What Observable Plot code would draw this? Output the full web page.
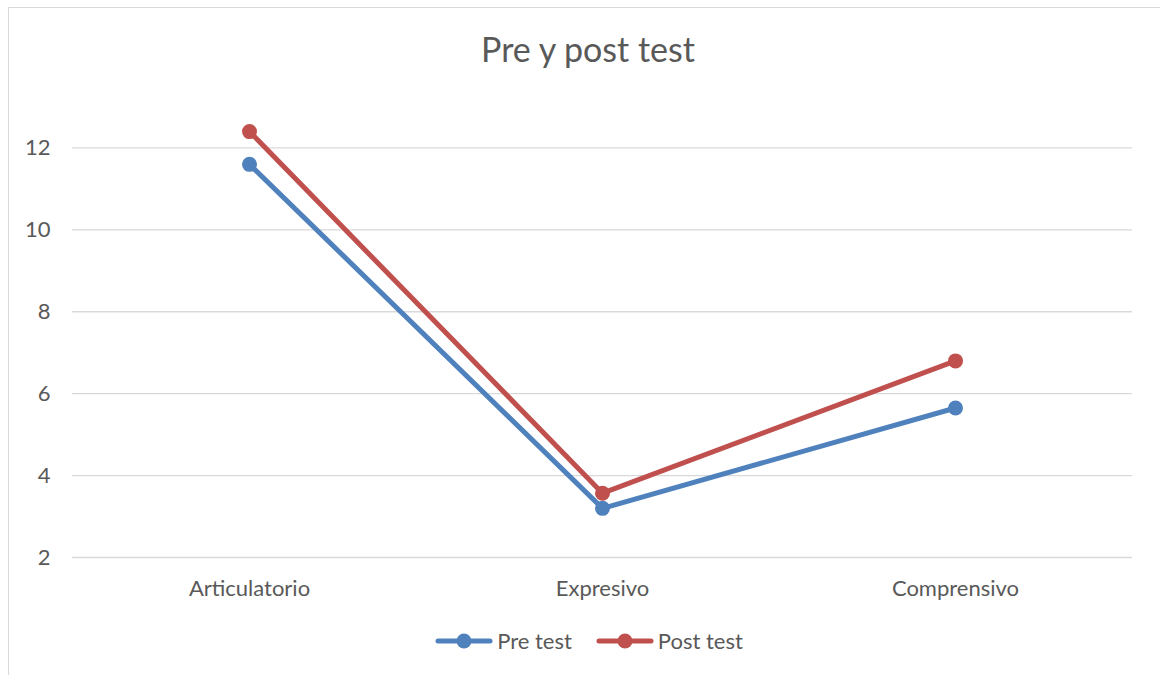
<!DOCTYPE html>
<html>
<head>
<meta charset="utf-8">
<script src="https://cdn.jsdelivr.net/npm/d3@7"></script>
<script src="https://cdn.jsdelivr.net/npm/@observablehq/plot@0.6"></script>
<style>
  html, body { margin: 0; padding: 0; background: #fff; }
  #wrap { position: relative; width: 1160px; height: 675px; overflow: hidden; font-family: Lato, "Open Sans", sans-serif; color: #595959; }
  #border { position: absolute; left: 8px; top: 7px; width: 1200px; height: 720px; border: 1px solid #d9d9d9; box-sizing: border-box; }
  #title { position: absolute; left: 8px; width: 1160px; top: 28px; text-align: center; font-size: 34px; color: #595959; }
  #chart { position: absolute; left: 0; top: 0; }
  #legend { position: absolute; left: 9px; width: 1160px; top: 627px; display: flex; justify-content: center; align-items: center; gap: 24px; font-size: 22px; color: #595959; }
  .item { display: flex; align-items: center; gap: 4px; }
</style>
</head>
<body>
<div id="wrap">
  <div id="border"></div>
  <div id="chart"></div>
  <div id="title">Pre y post test</div>
  <div id="legend"></div>
</div>
<script>
const categories = ["Articulatorio", "Expresivo", "Comprensivo"];
const seriesNames = ["Pre test", "Post test"];
const preTest = [11.6, 3.2, 5.65];
const postTest = [12.4, 3.57, 6.8];
const yTicks = [2, 4, 6, 8, 10, 12];
const colors = ["#4f81bd", "#c0504d"];

const data = [];
categories.forEach((c, i) => {
  data.push({category: c, series: seriesNames[0], value: preTest[i]});
  data.push({category: c, series: seriesNames[1], value: postTest[i]});
});

const chart = Plot.plot({
  width: 1160,
  height: 675,
  marginLeft: 72,
  marginRight: 28,
  marginTop: 106.5,
  marginBottom: 118,
  style: {fontFamily: "Lato, 'Open Sans', sans-serif", fontSize: "22px", color: "#595959", background: "transparent"},
  x: {type: "point", domain: categories, padding: 0.5, label: null},
  y: {domain: [2, 13], label: null},
  color: {domain: seriesNames, range: colors},
  marks: [
    Plot.gridY(yTicks, {stroke: "#d9d9d9", strokeOpacity: 1, strokeWidth: 1.3}),
    Plot.axisY(yTicks, {tickSize: 0, tickPadding: 22, fill: "#595959", fontSize: 22, label: null}),
    Plot.axisX({tickSize: 0, tickPadding: 23, fill: "#595959", fontSize: 22, label: null}),
    Plot.line(data, {x: "category", y: "value", z: "series", stroke: "series", strokeWidth: 5, strokeLinecap: "round", strokeLinejoin: "round"}),
    Plot.dot(data, {x: "category", y: "value", fill: "series", r: 7.5, stroke: null})
  ]
});
document.getElementById("chart").appendChild(chart);

const legend = document.getElementById("legend");
seriesNames.forEach((name, i) => {
  const item = document.createElement("div");
  item.className = "item";
  item.innerHTML = `<svg width="58" height="16"><line x1="3" y1="8" x2="55" y2="8" stroke="${colors[i]}" stroke-width="5" stroke-linecap="round"/><circle cx="29" cy="8" r="7.5" fill="${colors[i]}"/></svg><span>${name}</span>`;
  legend.appendChild(item);
});
</script>
</body>
</html>
